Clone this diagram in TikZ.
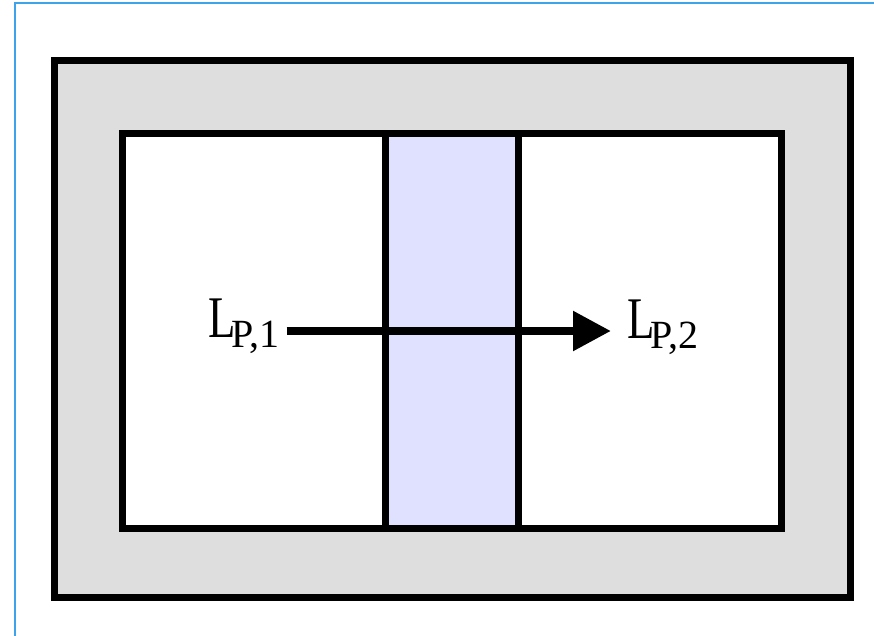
\documentclass[tikz,border=0pt]{standalone}
\usepackage{fontspec}
\usepackage{graphicx}
\setmainfont{Liberation Serif}
\usetikzlibrary{arrows.meta}
\definecolor{framblue}{HTML}{3FA3EC}
\definecolor{wallgray}{HTML}{DEDEDE}
\definecolor{lav}{HTML}{DFE1FF}
\tikzset{
  frameline/.style={draw=framblue, line width=1.5pt},
  wall/.style={draw=black, line width=7pt, fill=wallgray},
  room/.style={draw=black, line width=7pt, fill=white},
  band/.style={fill=lav},
  divider/.style={draw=black, line width=7pt},
  lbl/.style={inner sep=0pt, anchor=base west, font=\fontsize{59}{59}\selectfont},
  flow/.style={draw=black, line width=8.5pt, -{Triangle[length=38pt,width=38pt]}}
}
\newcommand{\bigL}{\scalebox{0.76}[1]{L}}
\newcommand{\subtxt}[1]{\raisebox{-10pt}{\fontsize{40}{40}\selectfont #1}}
\begin{document}
\begin{tikzpicture}[x=1pt,y=-1pt]
\useasboundingbox (0,0) rectangle (874,636);
\draw[frameline] (15,636) -- (15,3) -- (874,3);
\path[wall] (54,61) rectangle (850,597);
\path[room] (122.5,134) rectangle (781.5,528.5);
\path[band] (385.5,134) rectangle (518.5,528.5);
\draw[divider] (385.5,134) -- (385.5,528.5);
\draw[divider] (518.5,134) -- (518.5,528.5);
\draw[room, fill=none] (122.5,134) rectangle (781.5,528.5);
\node[lbl] (l1) at (208,337) {\bigL\kern-4pt\subtxt{P,1}};
\node[lbl] (l2) at (627,338) {\bigL\kern-4pt\subtxt{P,2}};
\coordinate (arr) at (0,331);
\draw[flow, shorten <=7pt, shorten >=16pt] (l1.east |- arr) -- (l2.west |- arr);
\end{tikzpicture}
\end{document}
